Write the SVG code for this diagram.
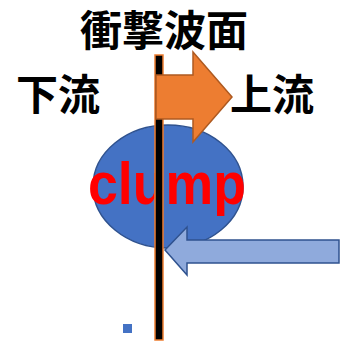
<svg xmlns="http://www.w3.org/2000/svg" width="344" height="342" viewBox="0 0 344 342">
<style>
.jp{font-family:"Noto Sans CJK JP","Noto Sans CJK SC",sans-serif;font-weight:bold;font-size:42px;fill:#000}
.lbl{font-family:"Liberation Sans",Arial,sans-serif;font-weight:bold;font-size:59px;fill:#FF0000}
</style>
<rect width="344" height="342" fill="#fff"/>
<g id="clump">
<ellipse cx="168" cy="186.5" rx="75" ry="61.5" fill="#4472C4" stroke="#2F528F" stroke-width="1.5"/>
<text class="lbl" x="88" y="204" textLength="158" lengthAdjust="spacingAndGlyphs">clump</text>
</g>
<g id="shock-front">
<rect x="155" y="55" width="8" height="285" fill="#000" stroke="#ED7D31" stroke-width="1.5"/>
</g>
<g id="connectors">
<polygon id="upstream-arrow" points="156,75 193,75 193,52 232,97 193,142 193,119 156,119" fill="#ED7D31" stroke="#AE5A21" stroke-width="1.5"/>
<polygon id="inflow-arrow" points="165,250 187,227 187,240 339,240 339,263 187,263 187,275" fill="#8FAADC" stroke="#2F528F" stroke-width="1.5"/>
</g>
<g id="marker">
<rect x="123" y="324" width="9" height="9" fill="#4472C4"/>
</g>
<g id="labels">
<text class="jp" x="80" y="46" font-size="43">衝撃波面</text>
<text class="jp" x="16" y="110">下流</text>
<text class="jp" x="230" y="110">上流</text>
</g>
</svg>
